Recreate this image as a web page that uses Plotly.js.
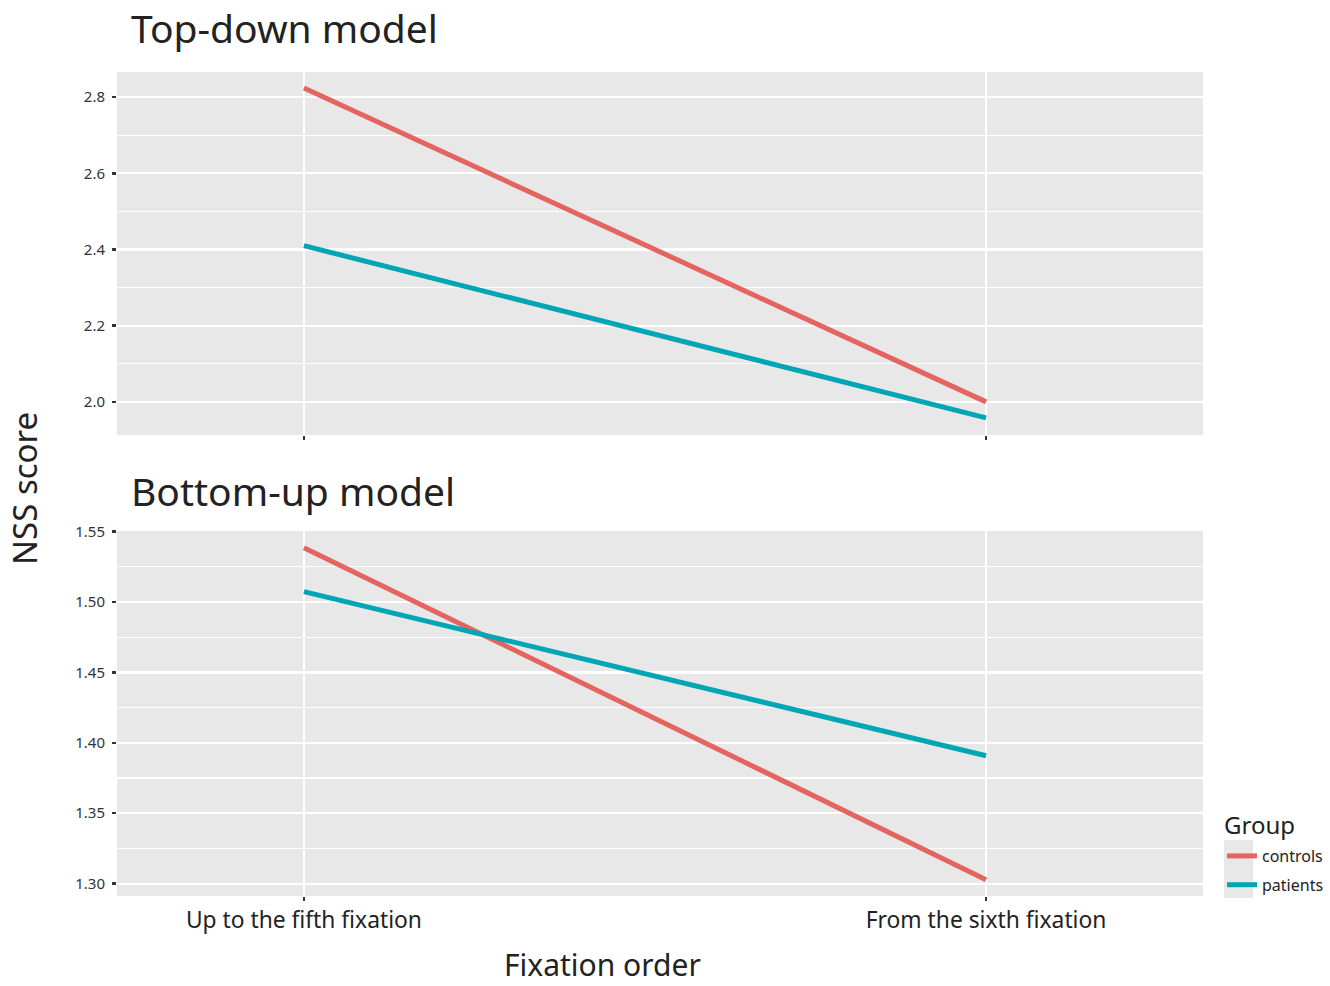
<!DOCTYPE html>
<html>
<head>
<meta charset="utf-8">
<script src="https://cdn.plot.ly/plotly-3.0.1.min.js"></script>
<style>html,body{margin:0;padding:0;background:#fff;}#chart{width:1330px;height:986px;}</style>
</head>
<body>
<div id="chart"></div>
<script>
// Data
const categories = ["Up to the fifth fixation", "From the sixth fixation"];
const groups = ["controls", "patients"];
const topDownControls = [2.824, 2.000];
const topDownPatients = [2.410, 1.958];
const bottomUpControls = [1.5386, 1.3028];
const bottomUpPatients = [1.5074, 1.3908];
const panelTitles = ["Top-down model", "Bottom-up model"];
const topTicks = [2.0, 2.2, 2.4, 2.6, 2.8];
const topTickText = ["2.0", "2.2", "2.4", "2.6", "2.8"];
const bottomTicks = [1.30, 1.35, 1.40, 1.45, 1.50, 1.55];
const bottomTickText = ["1.30", "1.35", "1.40", "1.45", "1.50", "1.55"];

const colControls = "#e4655f";
const colPatients = "#00a6b4";
const FONT = "Noto Sans, Open Sans, sans-serif";

const traces = [
  {x: categories, y: topDownControls, type: "scatter", mode: "lines", name: groups[0],
   line: {color: colControls, width: 5}, xaxis: "x", yaxis: "y", legendgroup: "c", showlegend: true},
  {x: categories, y: topDownPatients, type: "scatter", mode: "lines", name: groups[1],
   line: {color: colPatients, width: 5}, xaxis: "x", yaxis: "y", legendgroup: "p", showlegend: true},
  {x: categories, y: bottomUpControls, type: "scatter", mode: "lines", name: groups[0],
   line: {color: colControls, width: 5}, xaxis: "x2", yaxis: "y2", legendgroup: "c", showlegend: false},
  {x: categories, y: bottomUpPatients, type: "scatter", mode: "lines", name: groups[1],
   line: {color: colPatients, width: 5}, xaxis: "x2", yaxis: "y2", legendgroup: "p", showlegend: false}
];

const W = 1330, H = 986;
const px = v => v / W;
const py = v => 1 - v / H;

const xCommon = {
  type: "category", range: [-0.274, 1.318], fixedrange: true,
  showgrid: true, gridcolor: "#ffffff", gridwidth: 2.2,
  zeroline: false, showline: false,
  ticks: "outside", ticklen: 4, tickwidth: 2.5, tickcolor: "#333333",
  tickfont: {family: FONT, size: 22.8, color: "#222222"}
};
const yCommon = {
  showgrid: true, gridcolor: "#ffffff", gridwidth: 2.2,
  zeroline: false, showline: false,
  ticks: "outside", ticklen: 4, tickwidth: 2.5, tickcolor: "#333333",
  ticklabelstandoff: 4,
  tickfont: {family: FONT, size: 15, color: "#333333"},
  minor: {showgrid: true, gridcolor: "#ffffff", gridwidth: 1.1, ticks: ""}
};

const layout = {
  width: W, height: H,
  margin: {l: 0, r: 0, t: 0, b: 0},
  paper_bgcolor: "#ffffff",
  plot_bgcolor: "#e8e8e8",
  font: {family: FONT, color: "#222222"},
  showlegend: true,
  xaxis: Object.assign({}, xCommon, {domain: [px(117), px(1203)], anchor: "y", showticklabels: false}),
  yaxis: Object.assign({}, yCommon, {domain: [py(435), py(72)], anchor: "x",
    range: [1.913, 2.866], tickmode: "array", tickvals: topTicks, ticktext: topTickText,
    minor: Object.assign({}, yCommon.minor, {tickmode: "array", tickvals: [2.1, 2.3, 2.5, 2.7]})}),
  xaxis2: Object.assign({}, xCommon, {domain: [px(117), px(1203)], anchor: "y2"}),
  yaxis2: Object.assign({}, yCommon, {domain: [py(896), py(531)], anchor: "x2",
    range: [1.2912, 1.5505], tickmode: "array", tickvals: bottomTicks, ticktext: bottomTickText,
    minor: Object.assign({}, yCommon.minor, {tickmode: "array", tickvals: [1.325, 1.375, 1.425, 1.475, 1.525]})}),
  legend: {
    x: px(1222), y: py(839), xanchor: "left", yanchor: "top",
    bgcolor: "rgba(0,0,0,0)",
    font: {family: FONT, size: 16, color: "#222222"},
    itemwidth: 30, tracegroupgap: 5
  },
  shapes: [
    {type: "rect", xref: "paper", yref: "paper", x0: px(1224), x1: px(1253), y0: py(898), y1: py(840),
     fillcolor: "#e8e8e8", line: {width: 0}, layer: "below"}
  ],
  annotations: [
    {text: panelTitles[0], xref: "paper", yref: "paper", x: px(129), y: py(27), xanchor: "left", yanchor: "middle",
     showarrow: false, font: {family: FONT, size: 39, color: "#222222"}},
    {text: panelTitles[1], xref: "paper", yref: "paper", x: px(129), y: py(491), xanchor: "left", yanchor: "middle",
     showarrow: false, font: {family: FONT, size: 39, color: "#222222"}},
    {text: "NSS score", xref: "paper", yref: "paper", x: px(24), y: py(489), xanchor: "center", yanchor: "middle",
     textangle: -90, showarrow: false, font: {family: FONT, size: 33, color: "#222222"}},
    {text: "Fixation order", xref: "paper", yref: "paper", x: px(602), y: 0, xanchor: "center", yanchor: "bottom",
     borderpad: 0, showarrow: false, font: {family: FONT, size: 30, color: "#222222"}},
    {text: "Group", xref: "paper", yref: "paper", x: px(1222), y: py(824), xanchor: "left", yanchor: "middle",
     showarrow: false, font: {family: FONT, size: 24, color: "#222222"}}
  ]
};

Plotly.newPlot("chart", traces, layout, {displayModeBar: false, staticPlot: true});
</script>
</body>
</html>
